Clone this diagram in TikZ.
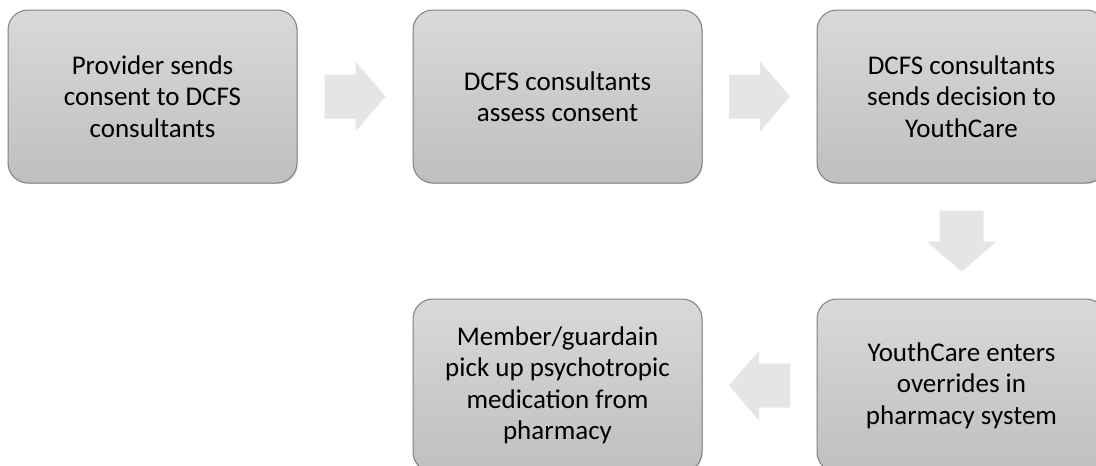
\documentclass[tikz,border=0pt]{standalone}
\usepackage{fontspec}
\setmainfont{Carlito}
\usetikzlibrary{positioning,shadows,calc}

\tikzset{
  stepbox/.style={draw=gray, line width=1pt, rounded corners=20pt,
    top color=gray!30, bottom color=gray!50,
    minimum width=289pt, minimum height=173pt, align=center,
    font=\fontsize{27}{31.5}\selectfont,
    drop shadow={shadow xshift=1pt, shadow yshift=-1pt, opacity=0.25}},
  blockarrow/.pic={
    \fill[gray!20] (-30.5,-22) -- (0.5,-22) -- (0.5,-35) -- (30.5,0)
      -- (0.5,35) -- (0.5,22) -- (-30.5,22) -- cycle;}
}

\begin{document}
\begin{tikzpicture}[x=1pt, y=-1pt]
  \clip (0,0) rectangle (1096,466);
  \fill[white] (0,0) rectangle (1096,466);

  \node[stepbox] (provider) at (152.5,96.5) {Provider sends\\consent to DCFS\\consultants};
  \node[stepbox, right=115pt of provider] (assess) {DCFS consultants\\assess consent};
  \node[stepbox, right=114pt of assess] (decision) {DCFS consultants\\sends decision to\\YouthCare};
  \node[stepbox, below=115pt of decision] (override) {YouthCare enters\\overrides in\\pharmacy system};
  \node[stepbox, left=114pt of override] (pickup) {Member/guardain\\pick up psychotropic\\medication from\\pharmacy};

  % arrows between the steps
  \pic at ($(provider.east)!0.5!(assess.west)$) {blockarrow};
  \pic at ($(assess.east)!0.5!(decision.west)$) {blockarrow};
  \pic[rotate=-90] at ($(decision.south)!0.5!(override.north)$) {blockarrow};
  \pic[rotate=180] at ($(override.west)!0.5!(pickup.east)$) {blockarrow};
\end{tikzpicture}
\end{document}
